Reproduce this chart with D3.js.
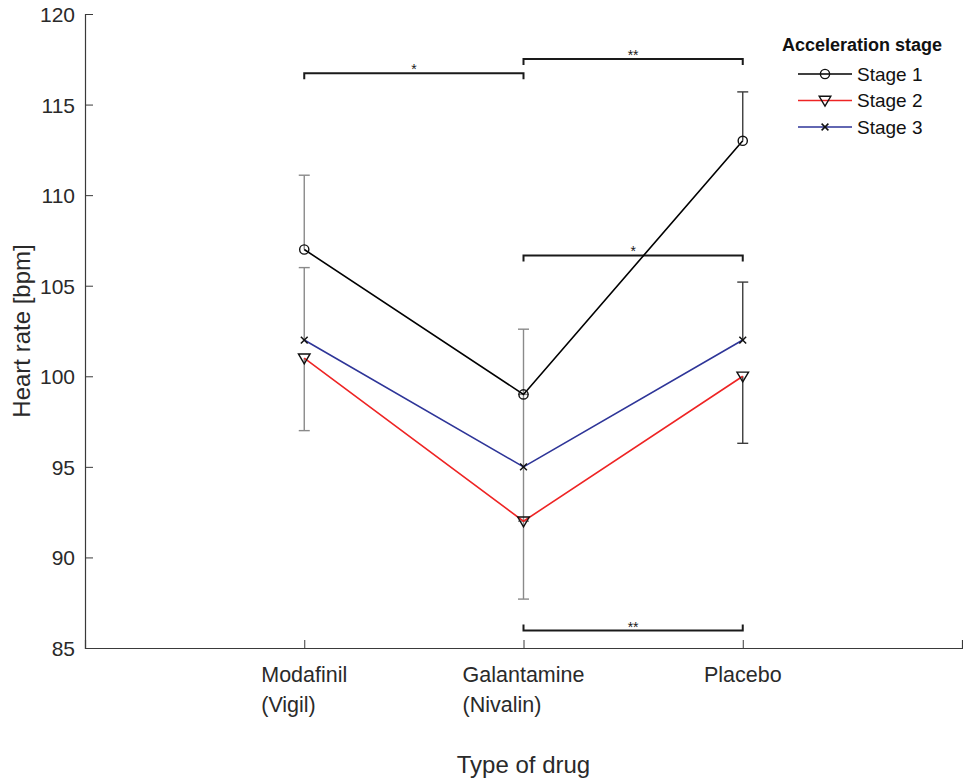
<!DOCTYPE html>
<html>
<head>
<meta charset="utf-8">
<script src="https://cdn.jsdelivr.net/npm/d3@7"></script>
<style>
  html, body { margin: 0; padding: 0; background: #fff; }
  svg { display: block; font-family: "Liberation Sans", Arial, Helvetica, sans-serif; }
</style>
</head>
<body>
<svg id="chart" width="963" height="781"></svg>
<script>
// ---------- data ----------
const categories = [["Modafinil", "(Vigil)"], ["Galantamine", "(Nivalin)"], ["Placebo"]];
const stageNames = ["Stage 1", "Stage 2", "Stage 3"];
const stage1 = [107, 99, 113];
const stage2 = [101, 92, 100];
const stage3 = [102, 95, 102];
// error bars (lower / upper lengths, bpm)
const stage1Lower = [0, 0, 0];
const stage1Upper = [4.1, 3.6, 2.7];
const stage2Lower = [4.0, 4.3, 3.7];
const stage2Upper = [0, 0, 0];
const stage3Lower = [0, 3.0, 0];
const stage3Upper = [4.0, 4.0, 3.2];
const yTicks = [85, 90, 95, 100, 105, 110, 115, 120];
// significance brackets: [from category index, to category index, level, label, direction]
const brackets = [
  [0, 1, 116.73, "*", "down"],
  [1, 2, 117.52, "**", "down"],
  [1, 2, 106.67, "*", "down"],
  [1, 2, 85.96, "**", "up"]
];
const legendTitle = "Acceleration stage";
const xLabel = "Type of drug";
const yLabel = "Heart rate [bpm]";

// ---------- setup ----------
const svg = d3.select("#chart");
const x = d3.scaleLinear().domain([0, 4]).range([85, 962]);
const y = d3.scaleLinear().domain([85, 120]).range([648, 14]);
const axisColor = "#3a3a3a";
const textColor = "#2a2a2a";

const series = [
  { name: stageNames[0], values: stage1, lo: stage1Lower, hi: stage1Upper, color: "#000000", marker: "circle" },
  { name: stageNames[1], values: stage2, lo: stage2Lower, hi: stage2Upper, color: "#ee2424", marker: "triangle" },
  { name: stageNames[2], values: stage3, lo: stage3Lower, hi: stage3Upper, color: "#2e3598", marker: "cross" }
];
const errColors = ["#8a8a8a", "#8a8a8a", "#3c3c3c"];

// ---------- axes ----------
const yAxis = d3.axisLeft(y).tickValues(yTicks).tickSize(-8).tickPadding(18).tickFormat(d3.format("d"));
const gy = svg.append("g").attr("transform", `translate(${x(0)},0)`).call(yAxis);
const xAxis = d3.axisBottom(x).tickValues([1, 2, 3, 4]).tickSize(-8).tickFormat("");
const gx = svg.append("g").attr("transform", `translate(0,${y(85)})`).call(xAxis);
[gx, gy].forEach(g => {
  g.attr("font-family", null);
  g.select(".domain").attr("stroke", axisColor).attr("stroke-width", 1.2);
  g.selectAll(".tick line").attr("stroke", axisColor).attr("stroke-width", 1);
});
gy.selectAll(".tick text").attr("font-size", 21).attr("fill", textColor)
  .attr("x", -10).attr("dy", "0.36em");

// x category labels (multi-line, left-aligned block centered on tick)
categories.forEach((lines, i) => {
  const g = svg.append("g");
  const t = g.append("text").attr("font-size", 21.5).attr("fill", textColor);
  lines.forEach((ln, j) => {
    t.append("tspan").attr("y", 682 + j * 30).text(ln);
  });
  const w = d3.max(t.selectAll("tspan").nodes(), n => n.getComputedTextLength());
  t.selectAll("tspan").attr("x", x(i + 1) - w / 2);
});

// axis titles
svg.append("text").attr("x", x(2)).attr("y", 773).attr("text-anchor", "middle")
  .attr("font-size", 24).attr("fill", textColor).text(xLabel);
svg.append("text").attr("transform", `translate(30,${331}) rotate(-90)`).attr("text-anchor", "middle")
  .attr("font-size", 24).attr("fill", textColor).text(yLabel);

// ---------- error bars ----------
const capW = 5.5;
const eg = svg.append("g");
series.forEach(s => {
  s.values.forEach((v, i) => {
    const segs = [];
    if (s.hi[i] > 0) segs.push(v + s.hi[i]);
    if (s.lo[i] > 0) segs.push(v - s.lo[i]);
    segs.forEach(end => {
      const cx = x(i + 1);
      eg.append("line").attr("x1", cx).attr("x2", cx).attr("y1", y(v)).attr("y2", y(end))
        .attr("stroke", errColors[i]).attr("stroke-width", 1.4);
      eg.append("line").attr("x1", cx - capW).attr("x2", cx + capW).attr("y1", y(end)).attr("y2", y(end))
        .attr("stroke", errColors[i]).attr("stroke-width", 1.4);
    });
  });
});

// ---------- significance brackets ----------
const bg = svg.append("g");
brackets.forEach(([a, b, lvl, lab, dir]) => {
  const yy = y(lvl);
  const tick = dir === "down" ? 6 : -6;
  const x1 = x(a + 1), x2 = x(b + 1);
  bg.append("path")
    .attr("d", `M${x1},${yy + tick} L${x1},${yy} L${x2},${yy} L${x2},${yy + tick}`)
    .attr("fill", "none").attr("stroke", "#1a1a1a").attr("stroke-width", 2);
  bg.append("text").attr("x", (x1 + x2) / 2).attr("y", yy + 1)
    .attr("text-anchor", "middle").attr("font-size", 14).attr("fill", "#1a1a1a").text(lab);
});

// ---------- lines ----------
const line = d3.line().x((d, i) => x(i + 1)).y(d => y(d));
series.forEach(s => {
  svg.append("path").datum(s.values).attr("d", line)
    .attr("fill", "none").attr("stroke", s.color).attr("stroke-width", 1.6);
});

// ---------- markers ----------
function drawMarker(g, type, cx, cy) {
  if (type === "circle") {
    g.append("circle").attr("cx", cx).attr("cy", cy).attr("r", 4.6)
      .attr("fill", "none").attr("stroke", "#111").attr("stroke-width", 1.4);
  } else if (type === "triangle") {
    g.append("path").attr("d", `M${cx - 5.8},${cy - 4.2} L${cx + 5.8},${cy - 4.2} L${cx},${cy + 5.6} Z`)
      .attr("fill", "none").attr("stroke", "#111").attr("stroke-width", 1.4);
  } else {
    const r = 3.4;
    g.append("path").attr("d", `M${cx - r},${cy - r} L${cx + r},${cy + r} M${cx - r},${cy + r} L${cx + r},${cy - r}`)
      .attr("fill", "none").attr("stroke", "#111").attr("stroke-width", 1.5);
  }
}
const mg = svg.append("g");
series.forEach(s => {
  s.values.forEach((v, i) => drawMarker(mg, s.marker, x(i + 1), y(v)));
});

// ---------- legend ----------
const lg = svg.append("g");
lg.append("text").attr("x", 862).attr("y", 51).attr("text-anchor", "middle")
  .attr("font-size", 18).attr("font-weight", "bold").attr("fill", "#111").text(legendTitle);
series.forEach((s, k) => {
  const ly = 74 + k * 26.5;
  lg.append("line").attr("x1", 798).attr("x2", 852).attr("y1", ly).attr("y2", ly)
    .attr("stroke", s.color).attr("stroke-width", 1.6);
  drawMarker(lg, s.marker, 825, ly);
  lg.append("text").attr("x", 857).attr("y", ly).attr("dy", "0.36em")
    .attr("font-size", 19).attr("fill", "#111").text(s.name);
});
</script>
</body>
</html>
